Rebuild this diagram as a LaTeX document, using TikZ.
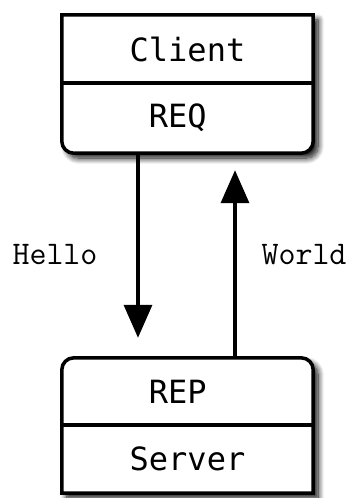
\documentclass[tikz,border=0pt]{standalone}
\usepackage{fontspec}
\newfontfamily\boxfont{DejaVu Sans Mono}
\usetikzlibrary{arrows.meta, backgrounds, shadows.blur}

\begin{document}
\begin{tikzpicture}[x=1pt, y=-1pt,
	part/.style={rectangle, inner sep=0pt, minimum width=251pt, minimum height=68pt, font=\boxfont\fontsize{32}{32}\selectfont},
	outline/.style={line width=3.5pt, fill=white, blur shadow={shadow xshift=5pt, shadow yshift=-5pt, shadow blur radius=6pt, shadow blur steps=12, shadow opacity=95}},
	msg/.style={line width=3.5pt, -{Triangle[width=28pt,length=33pt]}},
	lbl/.style={font=\ttfamily\fontsize{33}{33}\selectfont}]
	\useasboundingbox (0,0) rectangle (349,498);

	% client side
	\node[part] at (187.5,49) (client) {Client};
	\node[part, minimum height=70pt] at (187.5,118) (req) {REQ\phantom{x}};

	% server side
	\node[part, minimum height=67pt] at (187.5,391.5) (rep) {REP\phantom{x}};
	\node[part] at (187.5,459) (server) {Server};

	\begin{scope}[on background layer]
	\draw[outline] (client.north west) -- (client.north east) -- (req.east) [rounded corners=12pt] -- (req.south east) -- (req.south west) -- (req.west) [sharp corners] -- cycle;
	\draw[outline] (server.south west) -- (server.south east) -- (rep.east) [rounded corners=12pt] -- (rep.north east) -- (rep.north west) -- (rep.west) [sharp corners] -- cycle;
	\end{scope}
	\draw[line width=3.5pt] (client.south west) -- (client.south east);
	\draw[line width=3.5pt] (rep.south west) -- (rep.south east);

	% messages
	\draw[msg, shorten >=20pt] ([xshift=-49.5pt]req.south) -- ([xshift=-49.5pt]rep.north);
	\draw[msg, shorten >=17pt] ([xshift=47.5pt]rep.north) -- ([xshift=47.5pt]req.south);
	\node[lbl] at (55,255) (hello) {Hello};
	\node[lbl] at (304,255) (world) {World};
\end{tikzpicture}
\end{document}
